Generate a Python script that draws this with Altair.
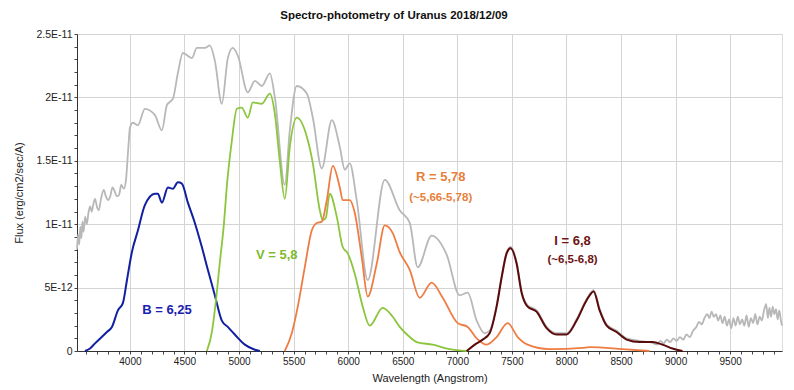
import altair as alt
import pandas as pd

# ---- Data (flux in units of 1E-12 erg/cm2/sec/A) ----
gray_wl = [3515, 3525, 3535, 3545, 3555, 3565, 3575, 3590, 3605, 3620, 3635, 3650, 3665, 3680,
           3700, 3715, 3735, 3760, 3780, 3800, 3820, 3840, 3860, 3880, 3900, 3920, 3945, 3965,
           3985, 4000, 4027, 4073, 4137, 4229, 4293, 4339, 4394, 4439, 4485, 4568, 4613, 4687,
           4732, 4778, 4842, 4897, 4943, 4989, 5080, 5145, 5209, 5282, 5328, 5419, 5465, 5529,
           5621, 5676, 5758, 5850, 5923, 5969, 6014, 6078, 6179, 6335, 6472, 6564, 6637, 6765,
           6902, 7021, 7095, 7177, 7250, 7296, 7360, 7406, 7452, 7488, 7543, 7589, 7644, 7726,
           7818, 7910, 8001, 8093, 8185, 8249, 8304, 8368, 8459, 8551, 8670, 8760,
           8800, 8830, 8860, 8890, 8920, 8950, 8980, 9010, 9040, 9070, 9100, 9130, 9160, 9190,
           9215, 9240, 9265, 9290, 9310, 9330, 9350, 9370, 9390, 9410, 9430, 9450, 9470, 9490,
           9510, 9530, 9550, 9570, 9590, 9610, 9630, 9650, 9670, 9690, 9710, 9730, 9750, 9770,
           9790, 9810, 9830, 9845, 9860, 9875, 9890, 9905, 9920, 9935, 9950, 9965, 9975]
gray_fx = [8.0, 9.2, 8.4, 9.8, 8.9, 10.2, 9.4, 10.6, 10.0, 10.9, 11.4, 11.0, 11.6, 12.0,
           11.3, 11.1, 12.0, 12.7, 12.2, 11.9, 12.2, 12.9, 12.6, 12.2, 12.3, 13.1, 12.8, 13.6,
           16.0, 17.6, 18.0, 17.8, 19.1, 18.6, 17.4, 19.4, 19.9, 21.9, 23.5, 23.1, 23.9, 23.9,
           24.1, 22.9, 19.5, 23.1, 23.9, 23.3, 20.4, 21.3, 20.9, 21.9, 20.0, 13.1, 17.4, 20.9,
           20.3, 18.4, 14.4, 18.2, 16.1, 14.3, 14.8, 11.9, 5.6, 13.5, 11.1, 10.1, 6.6, 9.1,
           7.6, 4.4, 4.6, 2.4, 1.4, 1.6, 3.6, 5.9, 7.8, 8.2, 7.0, 4.7, 3.6, 3.2,
           1.9, 1.4, 1.4, 2.5, 4.1, 4.8, 3.3, 2.1, 1.6, 1.0, 0.8, 0.7,
           0.6, 0.5, 0.8, 0.6, 0.9, 0.7, 1.0, 0.8, 1.1, 0.9, 1.3, 1.1, 1.6, 1.9,
           2.3, 2.1, 2.6, 2.9, 2.6, 3.1, 2.7, 2.9, 2.4, 2.8, 2.2, 2.7, 2.0, 2.5,
           1.8, 2.6, 2.0, 2.7, 2.1, 2.5, 2.0, 2.8, 1.9, 2.6, 2.2, 2.9, 2.1, 2.7,
           2.4, 3.2, 3.7, 2.6, 3.4, 2.7, 3.5, 2.9, 3.3, 2.5, 3.2, 2.4, 2.0]

b_wl = [3588, 3634, 3680, 3789, 3835, 3890, 3936, 3973, 4018, 4073, 4137, 4229, 4256, 4293,
        4348, 4394, 4439, 4476, 4531, 4595, 4659, 4714, 4778, 4842, 4897, 4961, 5053, 5145, 5190]
b_fx = [0.0, 0.2, 0.6, 1.5, 1.9, 3.2, 3.8, 5.6, 7.8, 9.5, 11.5, 12.4, 12.4, 11.7,
        12.9, 12.8, 13.3, 13.2, 11.7, 10.1, 8.2, 6.4, 4.4, 2.4, 1.9, 1.3, 0.5, 0.1, 0.0]

v_wl = [4705, 4751, 4787, 4824, 4861, 4888, 4934, 4980, 5025, 5080, 5126, 5209, 5282, 5328,
        5373, 5419, 5465, 5529, 5621, 5676, 5740, 5767, 5795, 5831, 5895, 5950, 5996, 6060,
        6133, 6197, 6316, 6408, 6472, 6564, 6628, 6774, 6930, 7086]
v_fx = [0.0, 1.5, 3.9, 7.0, 10.0, 13.0, 16.6, 19.1, 19.2, 18.4, 19.6, 19.5, 20.3, 18.7,
        15.0, 12.0, 16.1, 18.4, 16.9, 14.8, 11.1, 10.3, 10.5, 12.4, 10.6, 8.2, 7.7, 6.1,
        3.5, 2.0, 3.4, 2.7, 1.9, 1.1, 0.7, 0.5, 0.15, 0.0]

r_wl = [5419, 5483, 5538, 5602, 5666, 5712, 5758, 5804, 5859, 5923, 5950, 6014, 6060, 6124,
        6179, 6262, 6335, 6408, 6472, 6564, 6655, 6765, 6866, 7003, 7095, 7177, 7269, 7360,
        7461, 7553, 7644, 7846, 8148, 8212, 8514, 8761]
r_fx = [0.0, 1.4, 3.5, 6.6, 9.5, 10.1, 10.2, 11.9, 14.6, 12.9, 11.9, 11.9, 10.9, 7.4,
        4.3, 6.9, 9.9, 9.3, 7.8, 6.4, 4.2, 5.4, 4.2, 2.2, 1.9, 1.0, 0.5, 1.1,
        2.2, 1.1, 0.5, 0.15, 0.25, 0.3, 0.15, 0.0]

i_wl = [7086, 7177, 7232, 7296, 7360, 7406, 7452, 7488, 7543, 7589, 7644, 7726, 7818, 7910,
        8001, 8093, 8185, 8249, 8304, 8368, 8459, 8551, 8670, 8789, 8880, 8972, 9063]
i_fx = [0.0, 0.6, 0.9, 1.4, 3.5, 5.8, 7.7, 8.1, 6.9, 4.6, 3.5, 3.1, 1.8, 1.3,
        1.3, 2.4, 4.0, 4.7, 3.2, 2.0, 1.5, 0.9, 0.7, 0.7, 0.5, 0.2, 0.0]

ann_text = ["B = 6,25", "V = 5,8", "R = 5,78", "(~5,66-5,78)", "I = 6,8", "(~6,5-6,8)"]
ann_wl = [4339, 5346, 6848, 6848, 8056, 8056]
ann_fx = [3.2, 7.6, 13.7, 12.1, 8.7, 7.2]
ann_color = ["#1a22b0", "#7fba2e", "#e8803a", "#e8803a", "#6e1414", "#6e1414"]
ann_size = [13, 13, 13, 11.5, 13, 11.5]

title_text = "Spectro-photometry of Uranus 2018/12/09"
x_title = "Wavelength (Angstrom)"
y_title = "Flux (erg/cm2/sec/A)"

FONT = "Liberation Sans"

y_label_expr = ("datum.value == 0 ? '0' : datum.value == 5 ? '5E-12' : datum.value == 10 ? '1E-11' : "
                "datum.value == 15 ? '1.5E-11' : datum.value == 20 ? '2E-11' : "
                "datum.value == 25 ? '2.5E-11' : ''")

x_scale = alt.Scale(domain=[3515, 9975], nice=False, zero=False)
y_scale = alt.Scale(domain=[0, 25], nice=False)

x_axis = alt.Axis(
    title=x_title, values=list(range(3600, 10000, 100)),
    labelExpr="datum.value % 500 === 0 ? datum.value : ''",
    gridOpacity={"condition": {"test": "datum.value % 500 === 0", "value": 1}, "value": 0},
    gridColor="#d4d4d4", tickSize=3, tickColor="#444", domainColor="#333",
    labelFont=FONT, labelFontSize=10, labelColor="#222", titleFont=FONT, titleFontSize=11,
    titleFontWeight="normal", titleColor="#222", titlePadding=6, labelPadding=2,
)
y_axis = alt.Axis(
    title=y_title, values=list(range(0, 26)), labelExpr=y_label_expr,
    gridOpacity={"condition": {"test": "datum.value % 5 === 0", "value": 1}, "value": 0},
    gridColor="#d4d4d4", tickSize=3, tickColor="#444", domainColor="#333",
    labelFont=FONT, labelFontSize=10.5, labelColor="#222", titleFont=FONT, titleFontSize=11,
    titleFontWeight="normal", titleColor="#222", titlePadding=12, labelPadding=2,
)


def series(wl, fx, color, width):
    df = pd.DataFrame({"wl": wl, "fx": fx})
    return alt.Chart(df).mark_line(color=color, strokeWidth=width, interpolate="monotone").encode(
        x=alt.X("wl:Q", scale=x_scale, axis=x_axis),
        y=alt.Y("fx:Q", scale=y_scale, axis=y_axis),
    )


gray = series(gray_wl, gray_fx, "#b8b8b8", 1.8)
blue = series(b_wl, b_fx, "#1020a0", 2)
green = series(v_wl, v_fx, "#8cc63e", 1.8)
orange = series(r_wl, r_fx, "#ef7c42", 1.8)
dred = series(i_wl, i_fx, "#5b0b0b", 2)

ann_df = pd.DataFrame({"t": ann_text, "wl": ann_wl, "fx": ann_fx, "c": ann_color, "s": ann_size})
ann = alt.Chart(ann_df).mark_text(font=FONT, fontWeight="bold", align="center", baseline="middle").encode(
    x=alt.X("wl:Q", scale=x_scale, axis=x_axis),
    y=alt.Y("fx:Q", scale=y_scale, axis=y_axis),
    text="t:N",
    color=alt.Color("c:N", scale=None),
    size=alt.Size("s:Q", scale=None),
)

# chart title as a text mark placed above the plot area (pixel offsets relative to the plot)
title_mark = alt.Chart(pd.DataFrame({"t": [title_text]})).mark_text(
    font=FONT, fontSize=11.5, fontWeight="bold", color="#111", align="center", baseline="alphabetic"
).encode(x=alt.value(317), y=alt.value(-15), text="t:N")

chart = alt.layer(gray, blue, green, orange, dred, ann, title_mark).properties(
    width=705, height=317,
    autosize=alt.AutoSizeParams(type="none"),
    padding={"left": 69, "top": 26, "right": 4, "bottom": 40},
).configure_view(stroke="#333", strokeWidth=1).configure(background="white")

chart.save("out.html", embed_options={"renderer": "svg", "actions": False})
